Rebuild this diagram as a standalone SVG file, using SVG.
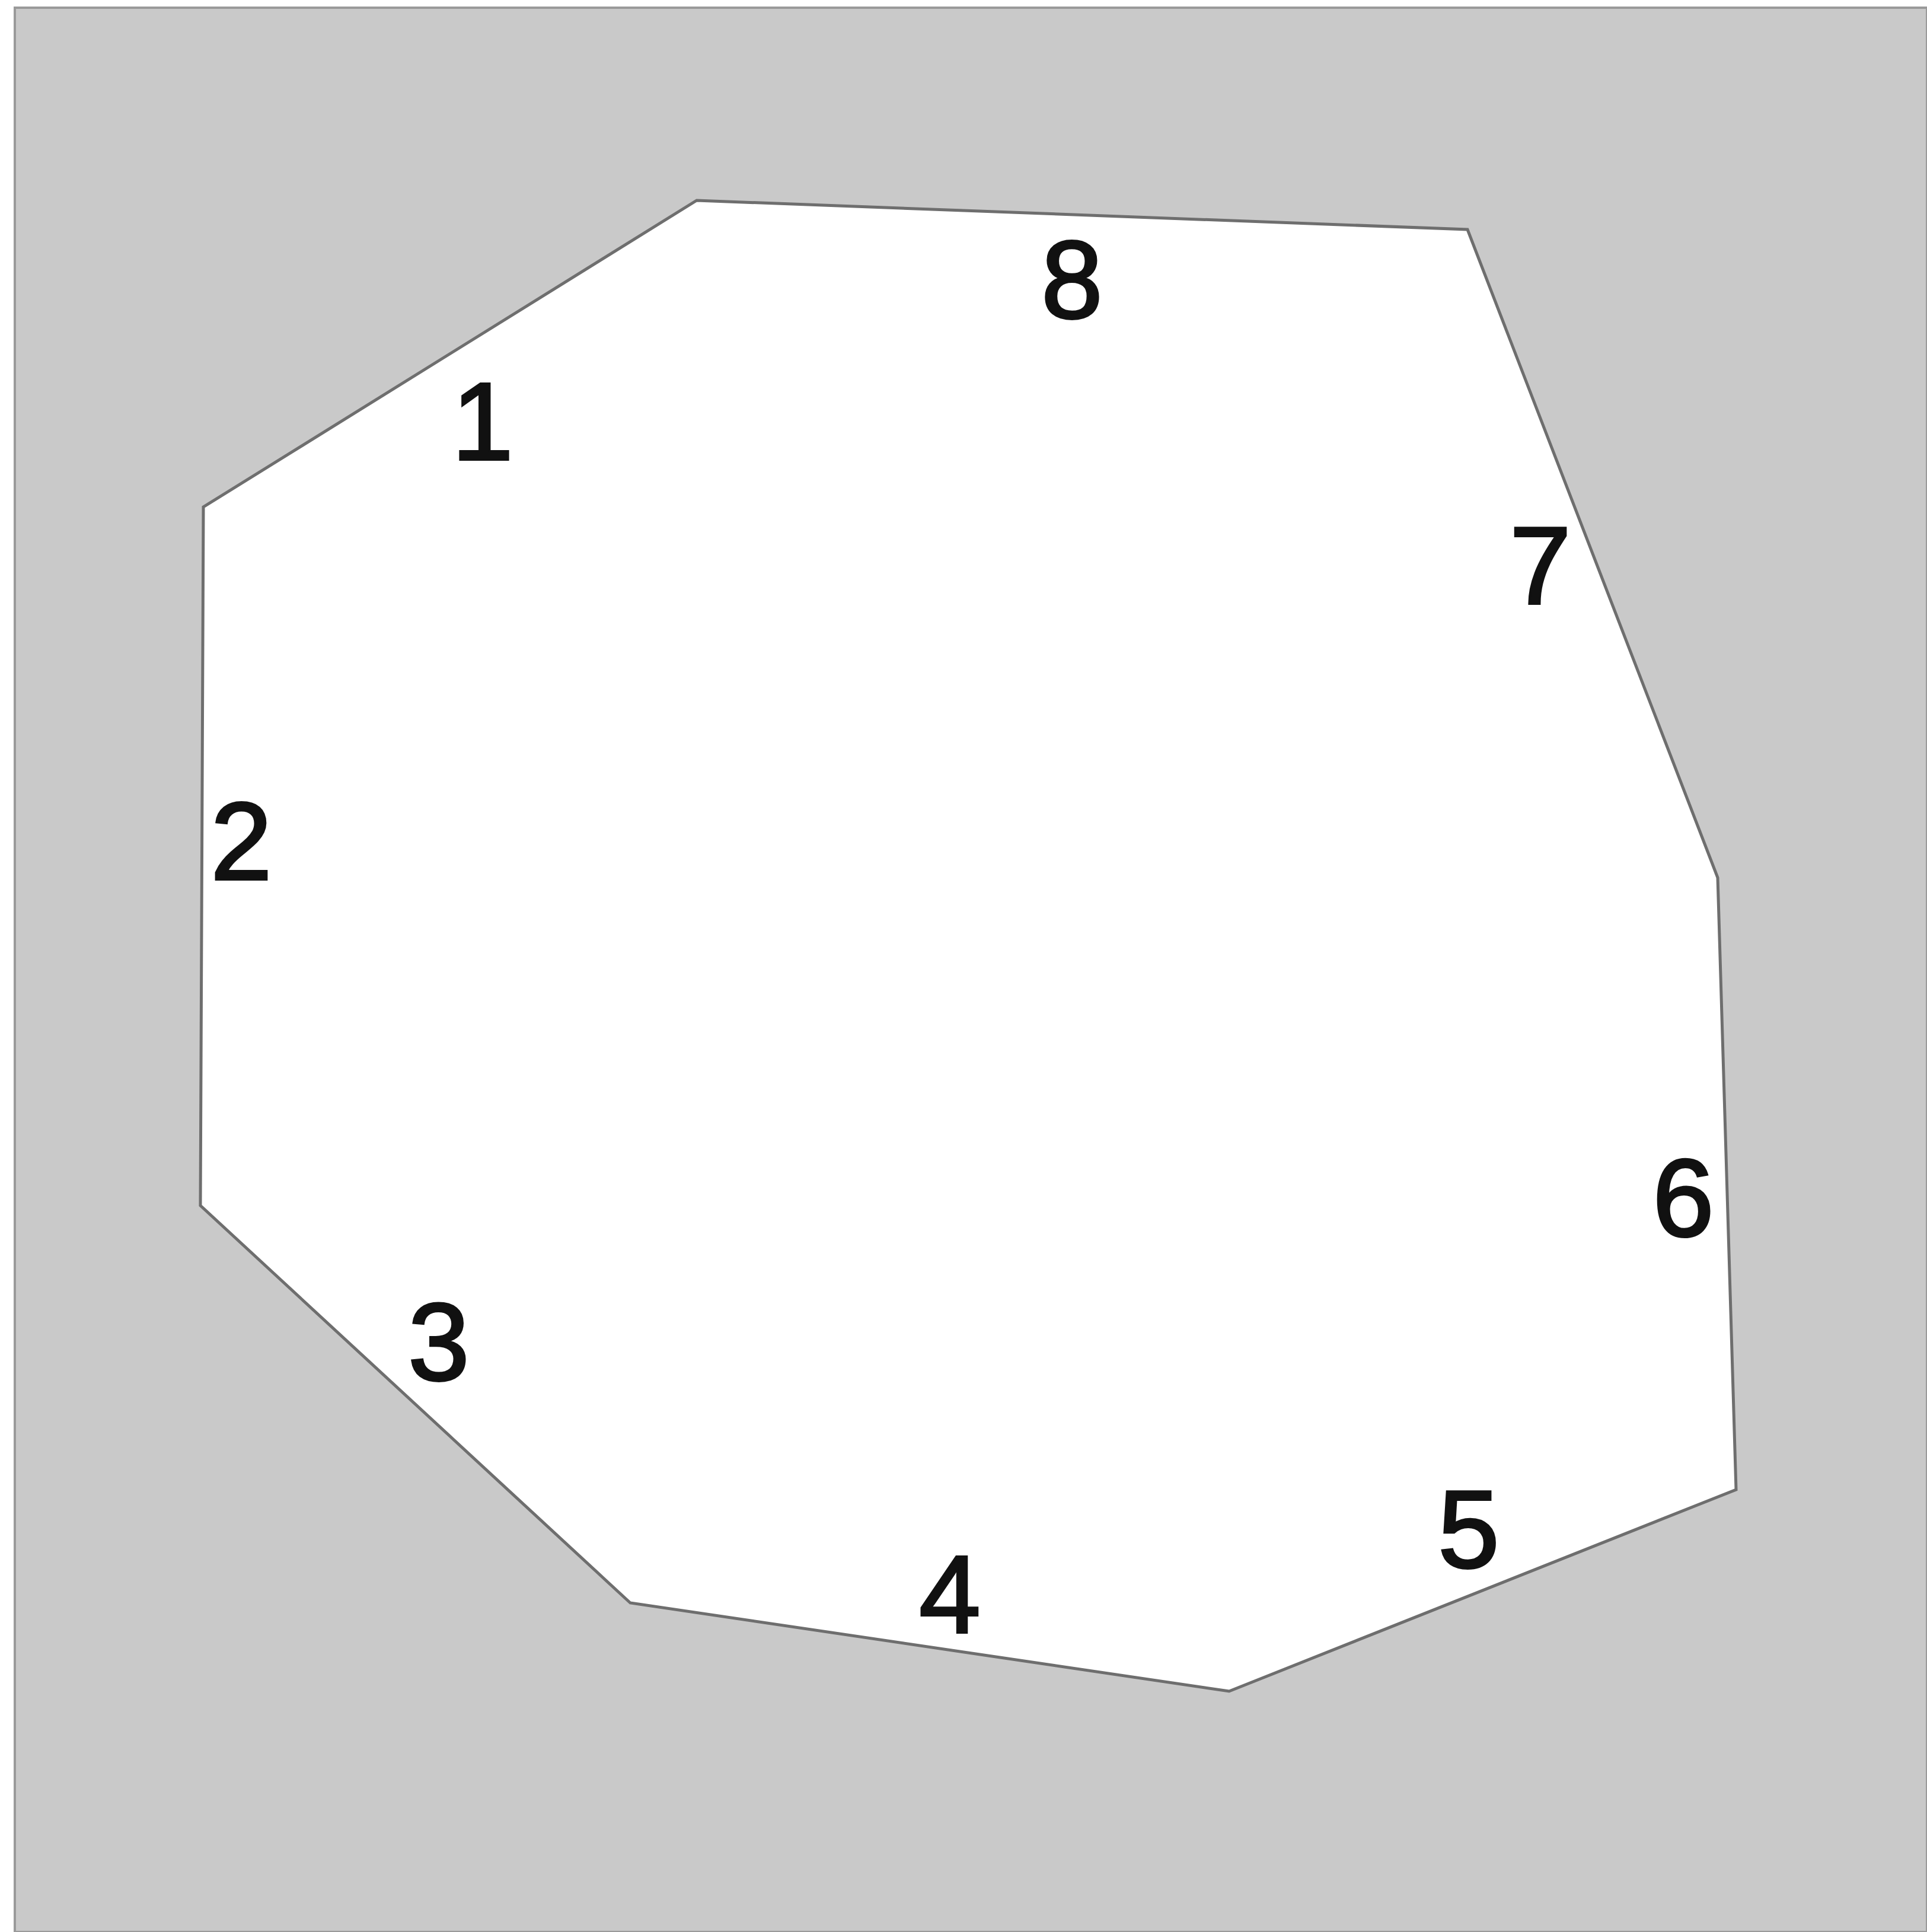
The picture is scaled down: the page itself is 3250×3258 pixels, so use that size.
<svg xmlns="http://www.w3.org/2000/svg" width="3250" height="3258" viewBox="0 0 3250 3258">
<style>
.lbl{font-family:"Liberation Sans",Arial,sans-serif;font-size:186px;fill:#111;stroke:#111;stroke-width:4px;text-anchor:middle}
</style>
<rect x="0" y="0" width="3250" height="3258" fill="#ffffff"/>
<rect x="25" y="13" width="3225" height="3245" fill="#c9c9c9" stroke="#9a9a9a" stroke-width="4"/>
<g id="region">
<polygon points="1175,338 2475,387 2897,1480 2928,2512 2073,2852 1063,2703 338,2033 343,855" fill="#ffffff" stroke="#6e6e6e" stroke-width="5" stroke-linejoin="miter"/>
</g>
<g id="labels">
<text class="lbl" x="1808" y="536">8</text>
<text class="lbl" x="814" y="775">1</text>
<text class="lbl" x="407" y="1483">2</text>
<text class="lbl" x="2598" y="1018">7</text>
<text class="lbl" x="2839" y="2084">6</text>
<text class="lbl" x="740" y="2327">3</text>
<text class="lbl" x="1602" y="2753">4</text>
<text class="lbl" x="2477" y="2643">5</text>
</g>
</svg>
